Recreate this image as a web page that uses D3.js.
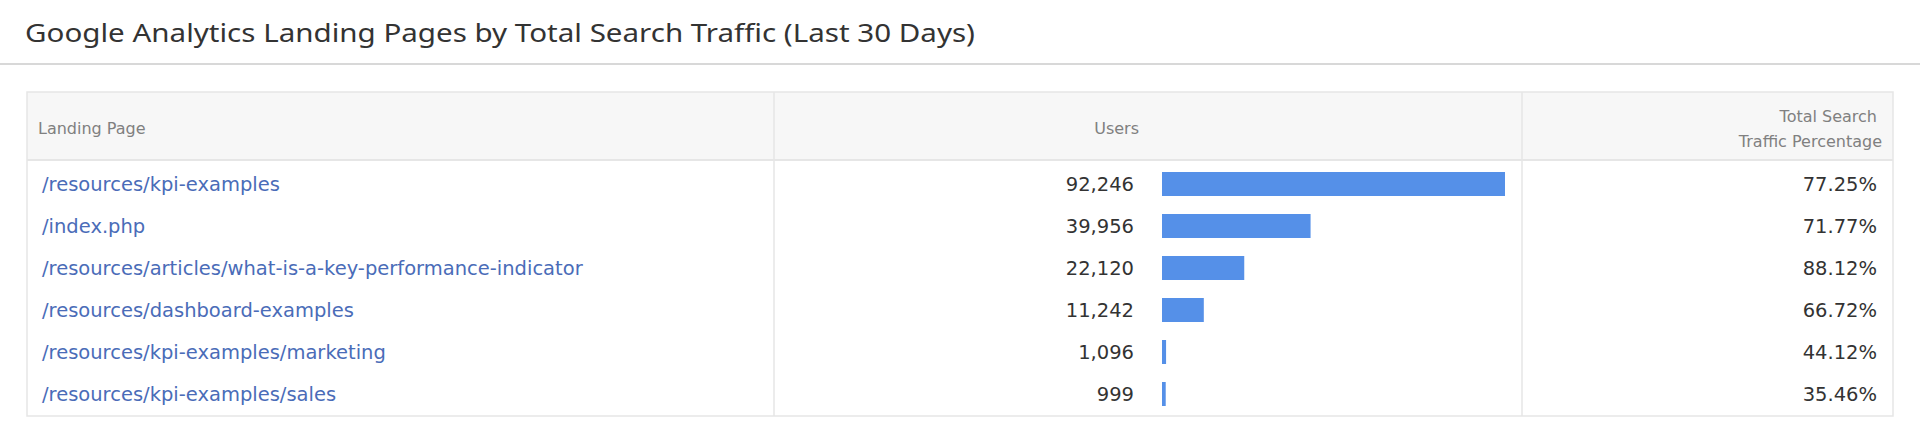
<!DOCTYPE html><html><head><meta charset="utf-8">
<script src="https://cdn.jsdelivr.net/npm/d3@7"></script>
<style>body{margin:0;background:#fff}</style></head><body>
<script>
const pages=["/resources/kpi-examples","/index.php","/resources/articles/what-is-a-key-performance-indicator","/resources/dashboard-examples","/resources/kpi-examples/marketing","/resources/kpi-examples/sales"];
const users=[92246,39956,22120,11242,1096,999];
const pct=[77.25,71.77,88.12,66.72,44.12,35.46];
const headers=["Landing Page","Users","Total Search","Traffic Percentage"];
const title="Google Analytics Landing Pages by Total Search Traffic (Last 30 Days)";

const W=1920,H=443,F="'Noto Sans',sans-serif",F2="'DejaVu Sans',sans-serif";
const svg=d3.select("body").append("svg").attr("width",W).attr("height",H);
svg.append("text").attr("x",25).attr("y",42).attr("font-family",F).attr("font-size",25).attr("fill","#333")
  .attr("textLength",950).attr("lengthAdjust","spacingAndGlyphs").text(title);
svg.append("rect").attr("x",0).attr("y",63).attr("width",W).attr("height",2).attr("fill","#d8d8d8");
const L=27,R=1893,T=92,HB=160,B=416,c1=774,c2=1522;
svg.append("rect").attr("x",L).attr("y",T).attr("width",R-L).attr("height",HB-T).attr("fill","#f7f7f7");
svg.append("rect").attr("x",L).attr("y",T).attr("width",R-L).attr("height",B-T).attr("fill","none").attr("stroke","#e6e6e6").attr("stroke-width",1.5);
svg.append("line").attr("x1",L).attr("x2",R).attr("y1",HB).attr("y2",HB).attr("stroke","#e6e6e6").attr("stroke-width",2);
[c1,c2].forEach(x=>svg.append("line").attr("x1",x).attr("x2",x).attr("y1",T).attr("y2",B).attr("stroke","#e6e6e6").attr("stroke-width",1.5));
const ht=(x,y,t,a)=>svg.append("text").attr("x",x).attr("y",y).attr("text-anchor",a).attr("font-family",F2).attr("font-size",16).attr("fill","#808080").text(t);
ht(38,134,headers[0],"start");ht(1139,134,headers[1],"end");ht(1877,122,headers[2],"end");ht(1882,147,headers[3],"end");
const y=d3.scaleBand().domain(d3.range(pages.length)).range([163,415]);
const x=d3.scaleLinear().domain([0,d3.max(users)]).range([1162,1505]);
const rows=svg.selectAll("g.r").data(pages).join("g").attr("transform",(d,i)=>`translate(0,${y(i)+y.bandwidth()/2})`);
rows.append("text").attr("x",42).attr("dy","0.35em").attr("font-family",F2).attr("font-size",19.5).attr("fill","#4a6cb8").text(d=>d);
rows.append("text").attr("x",1134).attr("dy","0.35em").attr("text-anchor","end").attr("font-family",F2).attr("font-size",19.5).attr("fill","#333").text((d,i)=>d3.format(",")(users[i]));
rows.append("rect").attr("x",x(0)).attr("y",-12).attr("height",24).attr("width",(d,i)=>Math.max(3,x(users[i])-x(0))).attr("fill","#5590e8");
rows.append("text").attr("x",1877).attr("dy","0.35em").attr("text-anchor","end").attr("font-family",F2).attr("font-size",19.5).attr("fill","#333").text((d,i)=>pct[i].toFixed(2)+"%");
</script></body></html>
